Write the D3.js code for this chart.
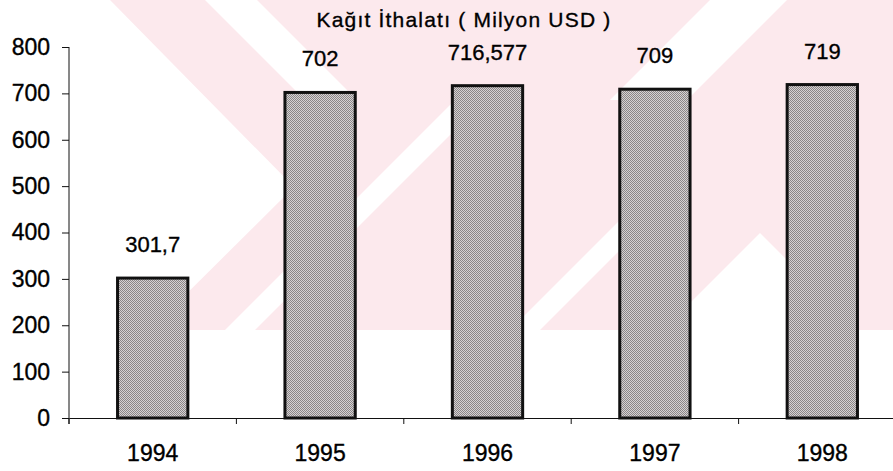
<!DOCTYPE html>
<meta charset="utf-8">
<script src="https://d3js.org/d3.v7.min.js"></script>
<style>
  body { margin: 0; background: #fff; }
  text { font-family: "Liberation Sans", Arial, sans-serif; fill: #000; stroke: #000; stroke-width: 0.35px; }
</style>
<div id="my_dataviz"></div>
<script>

  // chart data
  var years = ["1994", "1995", "1996", "1997", "1998"];
  var values = [301.7, 702, 716.577, 709, 719];
  var valueLabels = ["301,7", "702", "716,577", "709", "719"];
  var yTicks = [0, 100, 200, 300, 400, 500, 600, 700, 800];
  var title = "Kağıt İthalatı ( Milyon USD )";

  var W = 893, H = 471;
  var plotLeft = 69, plotRight = 906, plotTop = 47, plotBottom = 418;

  var svg = d3.select("#my_dataviz")
    .append("svg")
      .attr("width", W)
      .attr("height", H);

  // dithered grey like the printed bars
  var pat = svg.append("defs").append("pattern")
    .attr("id", "dither")
    .attr("width", 2).attr("height", 2)
    .attr("patternUnits", "userSpaceOnUse");
  pat.append("rect").attr("width", 2).attr("height", 2).attr("fill", "#d6d2d3");
  pat.append("rect").attr("width", 1).attr("height", 1).attr("fill", "#8a8687");
  pat.append("rect").attr("x", 1).attr("y", 1).attr("width", 1).attr("height", 1).attr("fill", "#8a8687");

  // pale watermark left over from the scan
  var wm = svg.append("g");
  wm.append("rect")
    .attr("x", 0).attr("y", 0)
    .attr("width", W).attr("height", 330)
    .attr("fill", "#fce9ed");
  var whites = [
    [[0,0],[110,0],[294,187],[150,330],[0,330]],
    [[205,0],[257,0],[350,93],[298,93]],
    [[455,100],[485,100],[255,330],[225,330]],
    [[640,200],[670,200],[540,330],[510,330]],
    [[760,233],[857,330],[663,330]],
    [[710,0],[787,0],[687,100],[610,100]]
  ];
  wm.selectAll("polygon")
    .data(whites)
    .enter().append("polygon")
      .attr("points", function(d) { return d.map(function(p) { return p.join(","); }).join(" "); })
      .attr("fill", "#fff");

  // scales
  var x = d3.scaleBand()
    .domain(years)
    .range([plotLeft, plotRight])
    .paddingInner(0.58)
    .paddingOuter(0.29);

  var y = d3.scaleLinear()
    .domain([0, 800])
    .range([plotBottom, plotTop]);

  // bars
  svg.append("g")
    .selectAll("rect")
    .data(values)
    .enter().append("rect")
      .attr("x", function(d, i) { return x(years[i]); })
      .attr("y", function(d) { return y(d); })
      .attr("width", x.bandwidth())
      .attr("height", function(d) { return plotBottom - y(d); })
      .attr("fill", "url(#dither)")
      .attr("stroke", "#111")
      .attr("stroke-width", 3);

  // y axis
  var yAxis = svg.append("g")
    .attr("transform", "translate(" + plotLeft + ",0)")
    .call(d3.axisLeft(y).tickValues(yTicks).tickSizeInner(7).tickSizeOuter(0).tickPadding(12));
  yAxis.select(".domain").attr("stroke", "#111").attr("d", "M0," + plotTop + "V" + (plotBottom + 6));
  yAxis.selectAll("line").attr("stroke", "#111");
  yAxis.selectAll("text").style("font-size", "23px");

  // x axis, ticks sit between the categories
  var xAxis = svg.append("g")
    .attr("transform", "translate(0," + plotBottom + ")")
    .call(d3.axisBottom(x).tickSizeInner(0).tickSizeOuter(0).tickPadding(27));
  xAxis.select(".domain").attr("stroke", "#111");
  xAxis.selectAll("text").style("font-size", "23px");

  var gap = (x.step() - x.bandwidth()) / 2;
  var bounds = years.map(function(d) { return x(d) - gap; });
  svg.append("g")
    .selectAll("line")
    .data(bounds)
    .enter().append("line")
      .attr("x1", function(d) { return d; })
      .attr("x2", function(d) { return d; })
      .attr("y1", plotBottom)
      .attr("y2", plotBottom + 6)
      .attr("stroke", "#111");

  // value labels
  svg.append("g")
    .selectAll("text")
    .data(values)
    .enter().append("text")
      .attr("x", function(d, i) { return x(years[i]) + x.bandwidth() / 2; })
      .attr("y", function(d) { return y(d) - 26; })
      .attr("text-anchor", "middle")
      .style("font-size", "22px")
      .text(function(d, i) { return valueLabels[i]; });

  // title
  svg.append("text")
    .attr("x", 464)
    .attr("y", 27)
    .attr("text-anchor", "middle")
    .style("font-size", "21px")
    .style("letter-spacing", "1.2px")
    .text(title);

</script>
